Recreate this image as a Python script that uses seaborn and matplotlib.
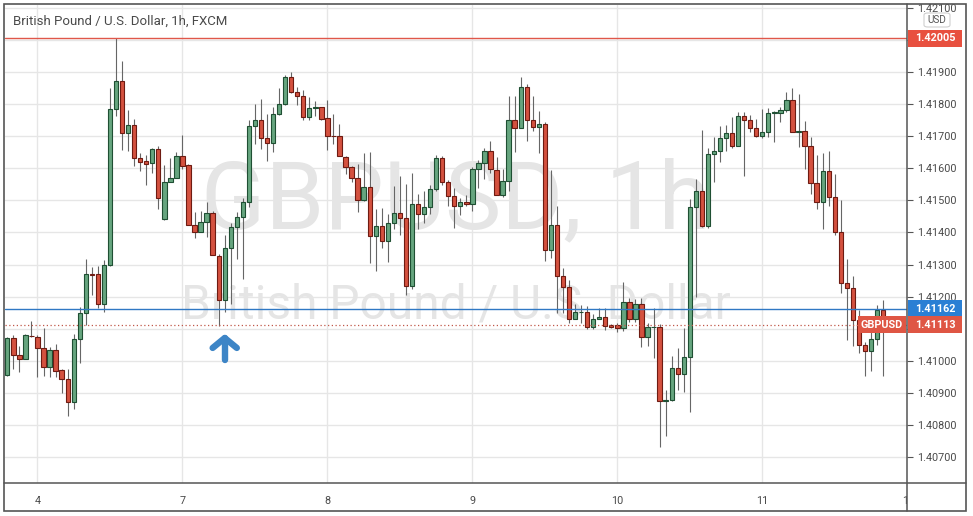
import numpy as np
import seaborn as sns
import matplotlib.pyplot as plt
from matplotlib.patches import Rectangle, FancyBboxPatch
from matplotlib.lines import Line2D
import matplotlib.transforms as mtransforms

# GBP/USD hourly candles
opens = [1.40955, 1.41072, 1.41019, 1.41005, 1.41078, 1.41075, 1.41041, 1.40981, 1.41034, 1.40970,
         1.40944, 1.40872, 1.41069, 1.41150, 1.41270, 1.41269, 1.41178, 1.41300, 1.41784, 1.41872,
         1.41710, 1.41734, 1.41631, 1.41622, 1.41615, 1.41659, 1.41442, 1.41556, 1.41570, 1.41638,
         1.41610, 1.41422, 1.41400, 1.41434, 1.41462, 1.41328, 1.41188, 1.41350, 1.41416, 1.41447,
         1.41494, 1.41731, 1.41750, 1.41694, 1.41678, 1.41769, 1.41800, 1.41884, 1.41838, 1.41825,
         1.41759, 1.41788, 1.41791, 1.41756, 1.41702, 1.41702, 1.41636, 1.41603, 1.41569, 1.41502,
         1.41541, 1.41388, 1.41421, 1.41374, 1.41428, 1.41460, 1.41444, 1.41233, 1.41490, 1.41458,
         1.41478, 1.41535, 1.41631, 1.41558, 1.41515, 1.41481, 1.41494, 1.41488, 1.41598, 1.41616,
         1.41654, 1.41596, 1.41518, 1.41561, 1.41752, 1.41725, 1.41852, 1.41750, 1.41728, 1.41738,
         1.41344, 1.41422, 1.41265, 1.41230, 1.41131, 1.41152, 1.41153, 1.41106, 1.41129, 1.41135,
         1.41111, 1.41110, 1.41103, 1.41182, 1.41129, 1.41177, 1.41073, 1.41105, 1.41106, 1.40874,
         1.40877, 1.40978, 1.40959, 1.41013, 1.41478, 1.41528, 1.41419, 1.41644, 1.41654, 1.41694,
         1.41709, 1.41671, 1.41763, 1.41752, 1.41725, 1.41702, 1.41713, 1.41773, 1.41772, 1.41782,
         1.41813, 1.41714, 1.41716, 1.41670, 1.41554, 1.41496, 1.41592, 1.41510, 1.41401, 1.41241,
         1.41227, 1.41128, 1.41048, 1.41032, 1.41068, 1.41157]
highs = [1.41075, 1.41079, 1.41046, 1.41085, 1.41123, 1.41079, 1.41103, 1.41044, 1.41051, 1.40975,
         1.40973, 1.41082, 1.41168, 1.41317, 1.41293, 1.41294, 1.41315, 1.41850, 1.42005, 1.41935,
         1.41782, 1.41754, 1.41648, 1.41640, 1.41664, 1.41669, 1.41610, 1.41631, 1.41650, 1.41704,
         1.41614, 1.41465, 1.41468, 1.41494, 1.41468, 1.41334, 1.41392, 1.41431, 1.41465, 1.41506,
         1.41749, 1.41799, 1.41817, 1.41770, 1.41791, 1.41850, 1.41892, 1.41900, 1.41853, 1.41843,
         1.41822, 1.41811, 1.41792, 1.41812, 1.41770, 1.41738, 1.41638, 1.41608, 1.41614, 1.41648,
         1.41650, 1.41474, 1.41475, 1.41458, 1.41546, 1.41575, 1.41551, 1.41585, 1.41519, 1.41530,
         1.41548, 1.41642, 1.41638, 1.41565, 1.41538, 1.41506, 1.41517, 1.41605, 1.41627, 1.41663,
         1.41686, 1.41634, 1.41598, 1.41825, 1.41825, 1.41884, 1.41863, 1.41825, 1.41780, 1.41744,
         1.41595, 1.41483, 1.41288, 1.41251, 1.41178, 1.41173, 1.41171, 1.41145, 1.41165, 1.41165,
         1.41114, 1.41118, 1.41246, 1.41195, 1.41193, 1.41195, 1.41119, 1.41163, 1.41114, 1.40910,
         1.41015, 1.41041, 1.41103, 1.41504, 1.41567, 1.41718, 1.41663, 1.41697, 1.41733, 1.41735,
         1.41759, 1.41777, 1.41777, 1.41765, 1.41754, 1.41785, 1.41788, 1.41780, 1.41790, 1.41839,
         1.41849, 1.41831, 1.41748, 1.41698, 1.41642, 1.41648, 1.41654, 1.41581, 1.41501, 1.41316,
         1.41264, 1.41157, 1.41060, 1.41107, 1.41174, 1.41189]
lows = [1.40953, 1.40973, 1.40965, 1.41004, 1.41075, 1.40950, 1.40952, 1.40950, 1.40950, 1.40900,
        1.40829, 1.40850, 1.40994, 1.41110, 1.41205, 1.41163, 1.41152, 1.41295, 1.41763, 1.41658,
        1.41655, 1.41608, 1.41590, 1.41549, 1.41585, 1.41473, 1.41440, 1.41556, 1.41569, 1.41598,
        1.41422, 1.41384, 1.41400, 1.41386, 1.41329, 1.41108, 1.41153, 1.41177, 1.41317, 1.41256,
        1.41478, 1.41677, 1.41660, 1.41624, 1.41652, 1.41767, 1.41796, 1.41835, 1.41796, 1.41749,
        1.41752, 1.41764, 1.41749, 1.41658, 1.41676, 1.41638, 1.41582, 1.41558, 1.41465, 1.41499,
        1.41304, 1.41280, 1.41352, 1.41308, 1.41410, 1.41392, 1.41205, 1.41223, 1.41412, 1.41431,
        1.41458, 1.41530, 1.41548, 1.41483, 1.41415, 1.41454, 1.41481, 1.41468, 1.41539, 1.41566,
        1.41585, 1.41517, 1.41509, 1.41530, 1.41650, 1.41725, 1.41686, 1.41715, 1.41647, 1.41312,
        1.41321, 1.41150, 1.41150, 1.41117, 1.41129, 1.41118, 1.41100, 1.41100, 1.41129, 1.41096,
        1.41103, 1.41089, 1.41094, 1.41122, 1.41122, 1.41044, 1.41046, 1.41009, 1.40731, 1.40765,
        1.40875, 1.40908, 1.40902, 1.40840, 1.41200, 1.41416, 1.41413, 1.41558, 1.41621, 1.41655,
        1.41663, 1.41669, 1.41575, 1.41713, 1.41697, 1.41694, 1.41697, 1.41681, 1.41745, 1.41776,
        1.41712, 1.41667, 1.41598, 1.41519, 1.41472, 1.41412, 1.41482, 1.41393, 1.41211, 1.41064,
        1.41045, 1.41024, 1.40953, 1.40967, 1.41048, 1.40951]
closes = [1.41071, 1.41018, 1.41005, 1.41079, 1.41076, 1.41040, 1.40981, 1.41034, 1.40969, 1.40944,
          1.40872, 1.41069, 1.41150, 1.41269, 1.41268, 1.41178, 1.41300, 1.41784, 1.41872, 1.41710,
          1.41734, 1.41631, 1.41621, 1.41614, 1.41659, 1.41506, 1.41556, 1.41570, 1.41638, 1.41608,
          1.41422, 1.41400, 1.41434, 1.41462, 1.41329, 1.41188, 1.41350, 1.41416, 1.41447, 1.41494,
          1.41731, 1.41750, 1.41694, 1.41678, 1.41769, 1.41800, 1.41884, 1.41838, 1.41825, 1.41759,
          1.41788, 1.41790, 1.41755, 1.41702, 1.41701, 1.41638, 1.41603, 1.41569, 1.41502, 1.41541,
          1.41388, 1.41421, 1.41374, 1.41428, 1.41460, 1.41444, 1.41233, 1.41490, 1.41458, 1.41478,
          1.41535, 1.41631, 1.41558, 1.41515, 1.41481, 1.41494, 1.41488, 1.41598, 1.41616, 1.41654,
          1.41598, 1.41518, 1.41561, 1.41752, 1.41725, 1.41852, 1.41750, 1.41728, 1.41738, 1.41344,
          1.41422, 1.41265, 1.41231, 1.41131, 1.41153, 1.41153, 1.41106, 1.41129, 1.41135, 1.41108,
          1.41106, 1.41103, 1.41182, 1.41129, 1.41177, 1.41073, 1.41105, 1.41106, 1.40874, 1.40877,
          1.40978, 1.40959, 1.41013, 1.41478, 1.41528, 1.41419, 1.41644, 1.41654, 1.41694, 1.41709,
          1.41671, 1.41763, 1.41752, 1.41725, 1.41702, 1.41713, 1.41773, 1.41774, 1.41782, 1.41813,
          1.41714, 1.41716, 1.41670, 1.41554, 1.41496, 1.41592, 1.41510, 1.41401, 1.41241, 1.41227,
          1.41128, 1.41048, 1.41032, 1.41068, 1.41157, 1.41113]

day_ticks = [5, 29, 53, 77, 101, 125, 148.7]
day_labels = ['4', '7', '8', '9', '10', '11', '1']
price_ticks = [1.407, 1.408, 1.409, 1.410, 1.411, 1.412, 1.413, 1.414, 1.415,
               1.416, 1.417, 1.418, 1.419, 1.420, 1.421]
hidden_ticks = [1.411, 1.420]  # covered by the price tags

resistance = 1.42005
support = 1.41162
last_price = 1.41113
low_idx = 35

sns.set_theme(style='white')
plt.rcParams['font.family'] = ['Roboto', 'DejaVu Sans']

W, H = 973, 516
fig = plt.figure(figsize=(W / 100, H / 100), dpi=100)
fig.patch.set_facecolor('white')
ax = fig.add_axes([5 / W, 1 - 483 / H, 902 / W, 478 / H])
ax.set_facecolor('white')

x = np.arange(len(opens))
o = np.array(opens)
c = np.array(closes)
up = c >= o

green_fc, green_ec = '#66a57f', '#1f4f33'
red_fc, red_ec = '#d4513f', '#6e1b12'

# grid
for p in price_ticks:
    ax.axhline(p, color='#e6e6e6', lw=1, zorder=0)
for d in day_ticks[:-1]:
    ax.axvline(d, color='#e6e6e6', lw=1, zorder=0)

# watermark
ax.text(0.5, 0.588, 'GBPUSD, 1h', transform=ax.transAxes, ha='center', va='center',
        fontsize=68, color='#e5e5e5', zorder=0.5)
ax.text(0.5, 0.372, 'British Pound / U.S. Dollar', transform=ax.transAxes, ha='center',
        va='center', fontsize=34.5, color='#e5e5e5', zorder=0.5)

# wicks and bodies
ax.vlines(x, lows, highs, color='#666666', lw=0.8, zorder=2)
ax.bar(x[up], (c - o)[up], bottom=o[up], width=0.72, color=green_fc,
       edgecolor=green_ec, linewidth=0.8, zorder=3)
ax.bar(x[~up], (c - o)[~up], bottom=o[~up], width=0.72, color=red_fc,
       edgecolor=red_ec, linewidth=0.8, zorder=3)

# levels
ax.axhline(resistance, color='#e0574a', lw=1, zorder=4)
ax.axhline(support, color='#2f78c4', lw=1, zorder=4)
ax.axhline(last_price, color='#c0584a', lw=0.9, ls=(0, (1, 2)), zorder=4)

# arrow under the swing low
ar_x = low_idx + 1.0
ax.plot([ar_x, ar_x], [1.41002, 1.41071], color='#3d85c6', lw=4.6,
        solid_capstyle='round', zorder=5)
ax.plot([ar_x - 2.0, ar_x, ar_x + 2.0], [1.41040, 1.41071, 1.41040], color='#3d85c6',
        lw=4.6, solid_capstyle='round', solid_joinstyle='round', zorder=5)

ax.set_xlim(-0.38, 148.96)
ax.set_ylim(1.40619, 1.42109)

ax.set_xticks(day_ticks)
ax.set_xticklabels(day_labels)
ax.yaxis.tick_right()
ax.set_yticks(price_ticks)
ax.set_yticklabels(['' if p in hidden_ticks else f'{p:.5f}' for p in price_ticks])
ax.tick_params(axis='y', length=4, width=0.8, color='#555555', pad=3,
               labelsize=7.8, labelcolor='#4a4a4a')
ax.tick_params(axis='x', length=0, pad=9, labelsize=7.8, labelcolor='#4a4a4a')
for s in ax.spines.values():
    s.set_visible(False)

# title
fig.text(13 / W, 1 - 21 / H, 'British Pound / U.S. Dollar, 1h, FXCM', ha='left', va='center',
         fontsize=9.5, color='#4a4a4a')

# price tags on the axis
tr = mtransforms.blended_transform_factory(ax.transAxes, ax.transData)
tag_h = 0.00052


def tag(y, text, fc, x0=1.0012, w=0.0598):
    ax.add_patch(Rectangle((x0, y - tag_h / 2), w, tag_h, transform=tr, fc=fc, ec='none',
                           clip_on=False, zorder=10))
    ax.text(x0 + w / 2, y, text, transform=tr, ha='center', va='center', color='white',
            fontsize=7.8, fontweight='bold', clip_on=False, zorder=11)


tag(resistance, f'{resistance:.5f}', '#e8503f')
tag(support, f'{support:.5f}', '#2a7fd4')
tag(last_price, f'{last_price:.5f}', '#df5644')
tag(last_price, 'GBPUSD', '#df5644', x0=0.9457, w=0.0532)

# currency box
fig.patches.append(FancyBboxPatch((924 / W, 1 - 27 / H), 26 / W, 14 / H,
                                  boxstyle='round,pad=0,rounding_size=0.004',
                                  transform=fig.transFigure, fc='white', ec='#cfcfcf', lw=0.8,
                                  zorder=12))
fig.text(937 / W, 1 - 20 / H, 'USD', ha='center', va='center', fontsize=7.2,
         color='#555555', zorder=13)

# frame and separators
fig.patches.append(Rectangle((4 / W, 1 - 511 / H), 962 / W, 507 / H, transform=fig.transFigure,
                             fill=False, ec='#555555', lw=1.2, zorder=20))
fig.lines.append(Line2D([907 / W, 907 / W], [1 - 511 / H, 1 - 4 / H], transform=fig.transFigure,
                        color='#555555', lw=1.1, zorder=20))
fig.lines.append(Line2D([4 / W, 966 / W], [1 - 483 / H, 1 - 483 / H], transform=fig.transFigure,
                        color='#555555', lw=1.1, zorder=20))

fig.savefig('out.png', dpi=100, facecolor='white')
